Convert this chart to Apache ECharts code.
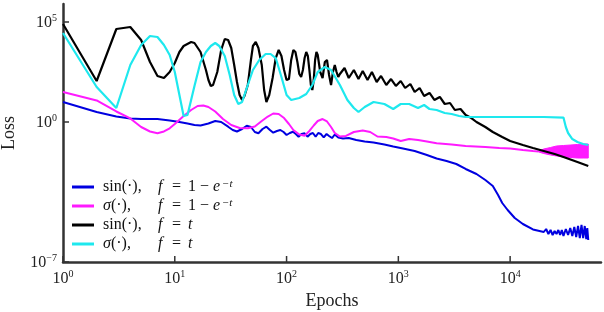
<!DOCTYPE html>
<html>
<head>
<meta charset="utf-8">
<script src="https://cdn.jsdelivr.net/npm/echarts@6/dist/echarts.min.js"></script>
<style>html,body{margin:0;padding:0;background:#fff}#c{width:604px;height:312px}</style>
</head>
<body>
<div id="c"></div>
<script>
// ---- data: [epoch, loss] ----
const xTicks = [1, 10, 100, 1000, 10000];
const yTicks = [1e-7, 1, 1e5];
const legendNames = ['sin_exp', 'sig_exp', 'sin_t', 'sig_t'];

const sinExp = [[1,10],[2,3.16],[3,1.88],[4,1.5],[5,1.41],[7,1.41],[9,1.19],[11,1],[13,8.41e-1],[15,7.08e-1],[17,6.68e-1],[20,8.41e-1],[23,1.12],[26,1],[30,5.82e-1],[33,3.98e-1],[36,3.35e-1],[40,4.47e-1],[44,6.53e-1],[48,5.62e-1],[52,3.16e-1],[56,2.72e-1],[61,4.47e-1],[66,5.82e-1],[71,3.98e-1],[76,2.92e-1],[82,3.55e-1],[88,3.98e-1],[94,3.16e-1],[100,2.24e-1],[107,2.82e-1],[114,3.27e-1],[121,2.51e-1],[128,1.84e-1],[136,2.51e-1],[145,2.72e-1],[154,1.84e-1],[163,2.51e-1],[172,2.82e-1],[182,1.84e-1],[192,2.82e-1],[203,2.51e-1],[215,1.68e-1],[228,2.51e-1],[240,2.0e-1],[255,1.58e-1],[270,2.37e-1],[290,1.68e-1],[320,1.5e-1],[360,1.58e-1],[420,1.26e-1],[500,1.06e-1],[600,9.44e-2],[750,7.5e-2],[900,5.96e-2],[1100,4.73e-2],[1400,3.55e-2],[1800,2.24e-2],[2200,1.5e-2],[2700,1.12e-2],[3300,7.94e-3],[4000,4.47e-3],[5000,2.51e-3],[6000,1.26e-3],[7000,6.31e-4],[7800,2.24e-4],[8500,8.91e-5],[9500,3.98e-5],[11000,1.58e-5],[13000,7.94e-6],[16000,4.22e-6],[20000,3.16e-6],[21000,4.47e-6],[22000,2.51e-6],[23000,3.98e-6],[24000,2.24e-6],[25000,3.55e-6],[26000,2.51e-6],[27000,3.98e-6],[28000,2.24e-6],[29000,3.98e-6],[30000,2.0e-6],[31500,4.47e-6],[33000,2.24e-6],[34500,5.01e-6],[36000,2.0e-6],[37500,5.62e-6],[39000,1.78e-6],[40500,6.31e-6],[42000,1.58e-6],[43500,7.08e-6],[45000,1.58e-6],[46500,6.31e-6],[48000,1.41e-6],[49000,5.01e-6],[50000,1.26e-6]];

const sigExp = [[1,3.16e1],[2,1.19e1],[3,3.35],[4,1.5],[5,5.62e-1],[6,3.35e-1],[7,2.72e-1],[8,3.35e-1],[9,4.84e-1],[10,7.94e-1],[12,2.0],[14,3.98],[16,6.31],[18,6.68],[20,5.62],[23,3.35],[27,1.41],[32,7.08e-1],[38,5.01e-1],[45,4.84e-1],[52,5.96e-1],[60,1.12],[68,1.88],[76,2.66],[85,2.51],[95,1.58],[105,7.94e-1],[115,3.98e-1],[130,2.37e-1],[145,2.07e-1],[160,3.55e-1],[175,6.68e-1],[190,1.12],[210,1.41],[230,1.06],[250,5.62e-1],[270,2.82e-1],[300,1.88e-1],[340,2.0e-1],[400,3.16e-1],[480,3.76e-1],[560,3.16e-1],[650,1.88e-1],[780,1.78e-1],[900,1.5e-1],[1050,1.12e-1],[1250,1.41e-1],[1500,1.26e-1],[1800,1.06e-1],[2200,8.61e-2],[3000,7.5e-2],[4000,6.31e-2],[6000,5.62e-2],[8000,5.01e-2],[10000,4.73e-2],[13000,3.98e-2],[16000,3.55e-2],[18000,3.35e-2]];
// oscillating band at the end of sigma(.), f = 1 - e^-t : lower / upper envelope
const sigExpBandEpochs = [18000, 20000, 23000, 26000, 30000, 35000, 40000, 45000, 50000];
const sigExpBandLow  = [3.16e-2, 2.66e-2, 2.24e-2, 2.0e-2, 1.78e-2, 1.68e-2, 1.58e-2, 1.58e-2, 1.58e-2];
const sigExpBandHigh = [3.55e-2, 4.47e-2, 5.31e-2, 6.31e-2, 6.68e-2, 7.08e-2, 7.5e-2, 7.94e-2, 7.94e-2];

const sinT = [[1,7.94e4],[2,1.12e2],[3,4.47e4],[4,5.62e4],[5,1.26e4],[6,1e3],[7,2.0e2],[8,1.58e2],[9,3.16e2],[10,8.91e2],[11,3.16e3],[12,6.31e3],[14,1e4],[15,8.91e3],[17,3.16e3],[19,3.98e2],[20,1.26e2],[21,6.31e1],[22,7.08e1],[24,3.16e2],[26,3.98e3],[28,1.41e4],[30,1.26e4],[32,5.01e3],[34,7.08e2],[36,1e2],[38,2.24e1],[40,1.26e1],[42,2.0e1],[45,7.08e1],[48,1.26e3],[50,6.31e3],[53,1e4],[56,5.01e3],[60,7.08e2],[63,3.98e1],[66,1e1],[70,2.24e1],[75,1.58e2],[80,1.58e3],[85,3.98e3],[90,2.0e3],[95,3.98e2],[100,1.26e2],[105,1.41e2],[110,1.26e3],[115,3.98e3],[120,3.16e3],[125,1e3],[130,2.51e2],[135,1.78e2],[140,3.98e2],[145,1.58e3],[150,3.16e3],[155,2.0e3],[160,3.98e2],[165,7.08e1],[170,3.98e1],[175,1.26e2],[180,1.26e3],[185,3.16e3],[190,2.24e3],[200,3.16e2],[210,1.58e2],[220,1e3],[230,1.26e3],[240,2.24e2],[250,7.08e1],[260,3.16e2],[270,7.08e2],[280,3.16e2],[290,1.78e2],[300,2.51e2],[330,5.01e2],[360,1.58e2],[400,3.98e2],[440,1.41e2],[480,3.55e2],[530,1.26e2],[580,3.16e2],[640,1e2],[700,2.0e2],[780,7.08e1],[860,1.41e2],[950,6.31e1],[1050,1.12e2],[1150,5.01e1],[1280,7.94e1],[1400,3.16e1],[1550,5.01e1],[1700,2.0e1],[1900,2.82e1],[2100,1.26e1],[2350,1.78e1],[2600,7.94],[2900,8.91],[3200,3.98],[3600,4.47],[4000,2.24],[4500,1.58],[5000,1],[6000,5.62e-1],[7000,3.16e-1],[8500,1.78e-1],[10000,1.12e-1],[13000,7.08e-2],[16000,5.01e-2],[20000,3.55e-2],[25000,2.51e-2],[30000,1.78e-2],[40000,1e-2],[50000,6.31e-3]];

const sigT = [[1,2.82e4],[2,5.62e1],[3,5.01],[4,7.08e2],[5,7.08e3],[6,2.0e4],[7,1.78e4],[8,7.08e3],[9,2.24e3],[10,3.16e2],[11,2.24e1],[12,2.0],[13,2.24],[14,1.26e1],[15,6.31e1],[17,1e3],[19,3.16e3],[21,6.31e3],[23,8.91e3],[25,6.31e3],[28,2.0e3],[31,2.24e2],[34,2.24e1],[37,7.94],[40,10],[45,7.08e1],[50,3.98e2],[57,1.26e3],[65,2.51e3],[72,2.51e3],[80,1.58e3],[90,1.78e2],[100,2.24e1],[110,1.26e1],[130,1.58e1],[150,2.51e1],[170,7.08e1],[190,3.16e2],[220,5.62e2],[250,3.98e2],[300,7.08e1],[350,1.26e1],[400,5.01],[440,3.16],[500,5.62],[600,10],[750,7.94],[900,4.47],[1050,7.94],[1250,7.94],[1500,5.01],[1700,7.08],[1900,4.47],[2200,3.98],[2600,2.82],[3000,2.51],[3500,2.0],[4000,1.78],[10000,1.78],[20000,1.78],[30000,1.66],[31500,5.62e-1],[33000,2.82e-1],[36000,1.41e-1],[40000,1e-1],[45000,7.94e-2],[50000,7.08e-2]];

// ---- chart ----
const FONT = 'Liberation Serif, DejaVu Serif, serif';
const C_BLUE = '#0000e0', C_MAG = '#ff1aff', C_BLK = '#000000', C_CYAN = '#1ee8ee';
const X_MIN = 1, X_MAX = 6.5e4, Y_MIN = 1e-7, Y_MAX = 7.94e5;

function pow10Label(v) {
  const e = Math.round(Math.log10(v));
  return '{b|10}{s|' + (e < 0 ? '\u2212' + (-e) : e) + '}';
}
const supRich = {
  b: { fontFamily: FONT, fontSize: 16, color: '#222', verticalAlign: 'bottom', lineHeight: 18 },
  s: { fontFamily: FONT, fontSize: 10, color: '#222', verticalAlign: 'top', lineHeight: 18 }
};

const legendText = {
  sin_exp: '{a|sin(\u00b7),}{fv|f}{eq|=}{one|1}{mi|\u2212}{ev|e}{s|\u2212t}',
  sig_exp: '{g|\u03c3}{a2|(\u00b7),}{fv|f}{eq|=}{one|1}{mi|\u2212}{ev|e}{s|\u2212t}',
  sin_t:   '{a|sin(\u00b7),}{fv|f}{eq|=}{ev|t}',
  sig_t:   '{g|\u03c3}{a2|(\u00b7),}{fv|f}{eq|=}{ev|t}'
};
const LF = 16, LH = 16;
const legendRich = {
  a:   { fontFamily: FONT, fontSize: LF, width: 55, lineHeight: LH },
  g:   { fontFamily: FONT, fontSize: LF, fontStyle: 'italic', lineHeight: LH },
  a2:  { fontFamily: FONT, fontSize: LF, width: 47, lineHeight: LH },
  fv:  { fontFamily: FONT, fontSize: LF, fontStyle: 'italic', width: 14, lineHeight: LH },
  eq:  { fontFamily: FONT, fontSize: LF, width: 16, lineHeight: LH },
  one: { fontFamily: FONT, fontSize: LF, width: 12, lineHeight: LH },
  mi:  { fontFamily: FONT, fontSize: LF, width: 13, lineHeight: LH },
  ev:  { fontFamily: FONT, fontSize: LF, fontStyle: 'italic', width: 9, lineHeight: LH },
  s:   { fontFamily: FONT, fontSize: 11, fontStyle: 'italic', verticalAlign: 'top', lineHeight: LH }
};

const lineBase = { type: 'line', showSymbol: false, symbol: 'none', smooth: false, animation: false };
const tickStyle = { stroke: '#333', lineWidth: 1.5 };

const option = {
  animation: false,
  backgroundColor: '#fff',
  grid: { left: 63, right: 3, top: 4, bottom: 50, containLabel: false, outerBoundsMode: 'none' },
  legend: {
    data: legendNames,
    orient: 'vertical',
    left: 72, top: 179,
    padding: 0,
    itemGap: 3,
    itemWidth: 22, itemHeight: 3,
    icon: 'rect',
    formatter: n => legendText[n],
    textStyle: { fontFamily: FONT, fontSize: LF, color: '#111', padding: [0, 0, 0, 4], rich: legendRich }
  },
  xAxis: {
    type: 'log', logBase: 10, min: X_MIN, max: X_MAX,
    name: 'Epochs', nameLocation: 'middle', nameGap: 27,
    nameTextStyle: { fontFamily: FONT, fontSize: 18, color: '#222' },
    axisLine: { show: true, lineStyle: { color: '#333', width: 2.5 } },
    axisTick: { show: false },
    axisLabel: { customValues: xTicks, formatter: pow10Label, rich: supRich, margin: 7, color: '#222' },
    splitLine: { show: false }, minorTick: { show: false }
  },
  yAxis: {
    type: 'log', logBase: 10, min: Y_MIN, max: Y_MAX,
    name: 'Loss', nameLocation: 'middle', nameGap: 45,
    nameTextStyle: { fontFamily: FONT, fontSize: 18, color: '#222' },
    axisLine: { show: true, lineStyle: { color: '#333', width: 2.5 } },
    axisTick: { show: false },
    axisLabel: { customValues: yTicks, formatter: pow10Label, rich: supRich, margin: 6, color: '#222' },
    splitLine: { show: false }, minorTick: { show: false }
  },
  series: [
    Object.assign({}, lineBase, { name: 'sin_exp', data: sinExp, color: C_BLUE, lineStyle: { color: C_BLUE, width: 2 }, z: 2 }),
    Object.assign({}, lineBase, { name: 'sig_exp', data: sigExp, color: C_MAG, lineStyle: { color: C_MAG, width: 2 }, z: 2 }),
    {
      type: 'custom', name: 'sig_exp_band', z: 2, animation: false, silent: true,
      data: [[sigExpBandEpochs[0], sigExpBandLow[0]]],
      renderItem: function (params, api) {
        const pts = [];
        for (let i = 0; i < sigExpBandEpochs.length; i++) pts.push(api.coord([sigExpBandEpochs[i], sigExpBandHigh[i]]));
        for (let i = sigExpBandEpochs.length - 1; i >= 0; i--) pts.push(api.coord([sigExpBandEpochs[i], sigExpBandLow[i]]));
        return { type: 'polygon', shape: { points: pts }, style: { fill: C_MAG, stroke: C_MAG, lineWidth: 1 } };
      }
    },
    Object.assign({}, lineBase, { name: 'sin_t', data: sinT, color: C_BLK, lineStyle: { color: C_BLK, width: 2.2 }, z: 3 }),
    Object.assign({}, lineBase, { name: 'sig_t', data: sigT, color: C_CYAN, lineStyle: { color: C_CYAN, width: 2.2 }, z: 3 }),
    {
      type: 'custom', name: 'xticks', z: 10, silent: true, animation: false, clip: false,
      data: xTicks.map(t => [t, Y_MIN]),
      renderItem: function (params, api) {
        const p = api.coord([api.value(0), Y_MIN]);
        return { type: 'line', shape: { x1: p[0], y1: p[1], x2: p[0], y2: p[1] - 6 }, style: tickStyle };
      }
    },
    {
      type: 'custom', name: 'yticks', z: 10, silent: true, animation: false, clip: false,
      data: yTicks.map(t => [X_MIN, t]),
      renderItem: function (params, api) {
        const p = api.coord([X_MIN, api.value(1)]);
        return { type: 'line', shape: { x1: p[0], y1: p[1], x2: p[0] + 6, y2: p[1] }, style: tickStyle };
      }
    }
  ]
};
const chart = echarts.init(document.getElementById('c'), null, { renderer: 'canvas' });
chart.setOption(option);
</script>
</body>
</html>
